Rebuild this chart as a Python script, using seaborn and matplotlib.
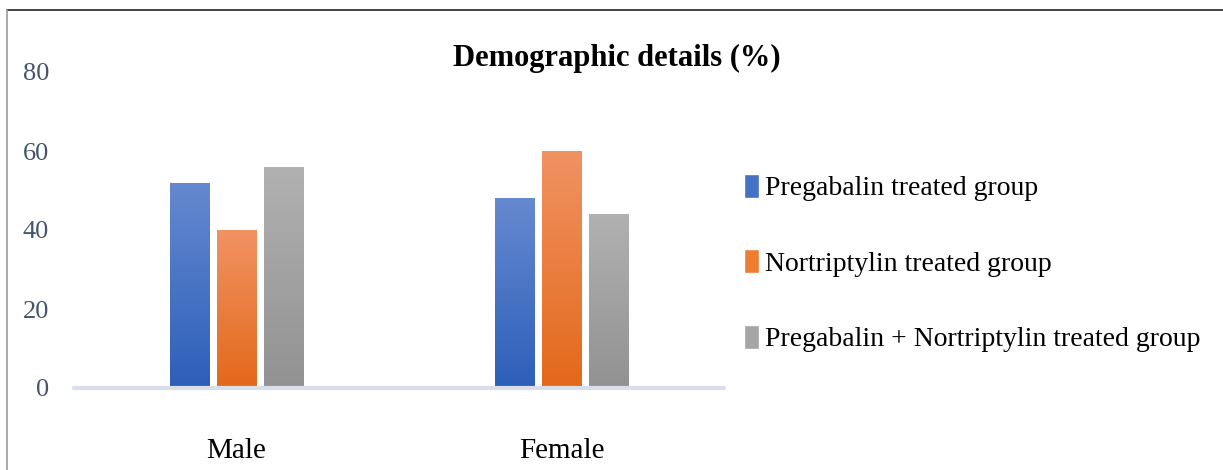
import numpy as np
import pandas as pd
import seaborn as sns
import matplotlib.pyplot as plt
from matplotlib.colors import LinearSegmentedColormap
from matplotlib.lines import Line2D

categories = ['Male', 'Female']
groups = ['Pregabalin treated group', 'Nortriptylin treated group',
          'Pregabalin + Nortriptylin treated group']
pregabalin = [52, 48]
nortriptylin = [40, 60]
combined = [56, 44]
yticks = [0, 20, 40, 60, 80]

rows = []
for g, vals in zip(groups, [pregabalin, nortriptylin, combined]):
    for c, v in zip(categories, vals):
        rows.append({'sex': c, 'group': g, 'pct': v})
df = pd.DataFrame(rows)

# top / bottom colours of each bar gradient
grad = [('#6589CF', '#2D5FBA'), ('#F19263', '#E3691A'), ('#B1B1B1', '#929292')]
mid = ['#4472C4', '#ED7D31', '#A5A5A5']

sns.set_style('white')
plt.rcParams['font.family'] = ['Liberation Serif', 'DejaVu Serif']
plt.rcParams['text.color'] = 'black'

fig = plt.figure(figsize=(12.23, 4.70), dpi=100)
ax = fig.add_axes([74 / 1223, 82 / 470, 650 / 1223, 316 / 470])

sns.barplot(data=df, x='sex', y='pct', hue='group', order=categories,
            hue_order=groups, palette=mid, width=0.434, gap=0.17,
            saturation=1, ax=ax, legend=True)

# gradient fill clipped to each bar
for i, cont in enumerate(ax.containers):
    cmap = LinearSegmentedColormap.from_list('g%d' % i, [grad[i][1], grad[i][0]])
    for bar in cont:
        x0, y0 = bar.get_x(), bar.get_y()
        w, h = bar.get_width(), bar.get_height()
        img = ax.imshow(np.linspace(0, 1, 100).reshape(-1, 1), cmap=cmap,
                        extent=[x0, x0 + w, y0, y0 + h], origin='lower',
                        aspect='auto', zorder=3)
        img.set_clip_path(bar)

ax.set_xlim(-0.5, 1.5)
ax.set_ylim(0, 80)
ax.set_yticks(yticks)
ax.set_yticklabels([str(t) for t in yticks], fontsize=19, color='#44546A')
ax.tick_params(axis='y', length=0, pad=18)
ax.tick_params(axis='x', length=0, pad=36, labelsize=21, labelcolor='black')
ax.set_xlabel('')
ax.set_ylabel('')
for s in ax.spines.values():
    s.set_visible(False)
ax.axhline(0, color='#D9DFE8', lw=3, zorder=4, clip_on=False)

leg = ax.get_legend()
handles = leg.legend_handles
leg.remove()
fig.legend(handles, groups, loc='center left',
           bbox_to_anchor=(744 / 1223, 1 - 263 / 470), frameon=False,
           fontsize=20, handlelength=0.55, handleheight=0.95,
           handletextpad=0.2, labelspacing=1.72, borderpad=0,
           borderaxespad=0, labelcolor='black')

fig.text(617 / 1223, 1 - 58 / 470, 'Demographic details (%)', ha='center',
         va='center', fontsize=22, fontweight='bold', color='black')

# outer frame (top and left edges visible)
fig.add_artist(Line2D([7 / 1223, 1], [1 - 10 / 470, 1 - 10 / 470],
                      transform=fig.transFigure, color='#222222', lw=1.2))
fig.add_artist(Line2D([7 / 1223, 7 / 1223], [0, 1 - 10 / 470],
                      transform=fig.transFigure, color='#999999', lw=1.2))

fig.savefig('out.png', dpi=100)
